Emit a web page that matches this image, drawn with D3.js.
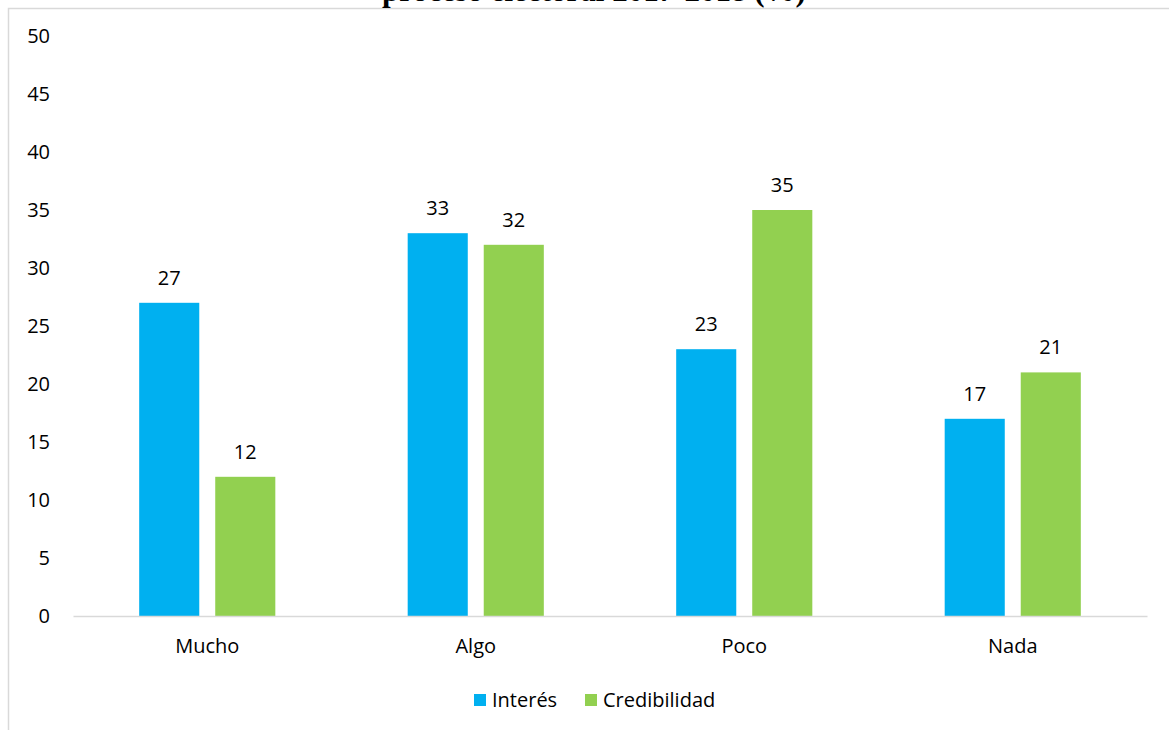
<!DOCTYPE html>
<html>
<head>
<meta charset="utf-8">
<script src="https://cdn.jsdelivr.net/npm/d3@7"></script>
<style>
  body { margin: 0; background: #fff; }
  svg { display: block; }
</style>
</head>
<body>
<script>
const title = "proceso electoral 2017-2018 (%)";
const categories = ["Mucho", "Algo", "Poco", "Nada"];
const seriesNames = ["Interés", "Credibilidad"];
const interes = [27, 33, 23, 17];
const credibilidad = [12, 32, 35, 21];
const yTicks = [0, 5, 10, 15, 20, 25, 30, 35, 40, 45, 50];
const colors = ["#00B0F0", "#92D050"];

(function () {
const W = 1169, H = 730;
const font = "'Open Sans', sans-serif";
const fs = 20;
const svg = d3.select("body").append("svg").attr("width", W).attr("height", H);

// chart area border
svg.append("path")
  .attr("d", `M${W},8.5 H8.5 V${H}`)
  .attr("fill", "none").attr("stroke", "#d9d9d9").attr("stroke-width", 1.5);

// title (cut off at top, as in the reference)
svg.append("text")
  .attr("x", 594).attr("y", 1)
  .attr("text-anchor", "middle")
  .attr("font-family", "'Liberation Serif', serif")
  .attr("font-weight", "bold")
  .attr("font-size", 31)
  .attr("fill", "#000")
  .text(title);

const mLeft = 73, mRight = 1147, mTop = 36, mBottom = 616;
const y = d3.scaleLinear().domain([0, 50]).range([mBottom, mTop]);
const x0 = d3.scaleBand().domain(categories).range([mLeft, mRight])
  .paddingInner(0.493).paddingOuter(0.2465);
const x1 = d3.scaleBand().domain(seriesNames).range([0, x0.bandwidth()]).paddingInner(0.21);

const data = categories.map((c, i) => ({ cat: c, vals: [interes[i], credibilidad[i]] }));

// y axis labels
const yAxis = d3.axisLeft(y).tickValues(yTicks).tickSize(0).tickPadding(0);
const gy = svg.append("g").attr("transform", `translate(50,0)`).call(yAxis);
gy.select(".domain").remove();
gy.selectAll("text").attr("font-family", font).attr("font-size", fs).attr("fill", "#000");

// bars
const groups = svg.append("g").selectAll("g").data(data).join("g")
  .attr("transform", d => `translate(${x0(d.cat)},0)`);
groups.selectAll("rect").data(d => d.vals.map((v, j) => ({ s: seriesNames[j], v, j })))
  .join("rect")
  .attr("x", d => x1(d.s))
  .attr("y", d => y(d.v))
  .attr("width", x1.bandwidth())
  .attr("height", d => y(0) - y(d.v))
  .attr("fill", d => colors[d.j]);
groups.selectAll("text").data(d => d.vals.map((v, j) => ({ s: seriesNames[j], v, j })))
  .join("text")
  .attr("x", d => x1(d.s) + x1.bandwidth() / 2)
  .attr("y", d => y(d.v) - 18)
  .attr("text-anchor", "middle")
  .attr("font-family", font).attr("font-size", fs).attr("fill", "#000")
  .text(d => d.v);

// x axis
const xAxis = d3.axisBottom(x0).tickSize(0).tickPadding(0);
const gx = svg.append("g").attr("transform", `translate(0,${mBottom})`).call(xAxis);
gx.select(".domain").attr("stroke", "#d9d9d9").attr("stroke-width", 1.5);
gx.selectAll("text").attr("font-family", font).attr("font-size", fs).attr("fill", "#000")
  .attr("dy", null).attr("y", 37);

// legend
const legendItems = [{ name: seriesNames[0], x: 474 }, { name: seriesNames[1], x: 585 }];
const lg = svg.append("g").selectAll("g").data(legendItems).join("g")
  .attr("transform", d => `translate(${d.x},694)`);
lg.append("rect").attr("width", 12).attr("height", 12).attr("fill", (d, i) => colors[i]);
lg.append("text").attr("x", 18).attr("y", 13)
  .attr("font-family", font).attr("font-size", fs).attr("fill", "#000")
  .text(d => d.name);
})();
</script>
</body>
</html>
